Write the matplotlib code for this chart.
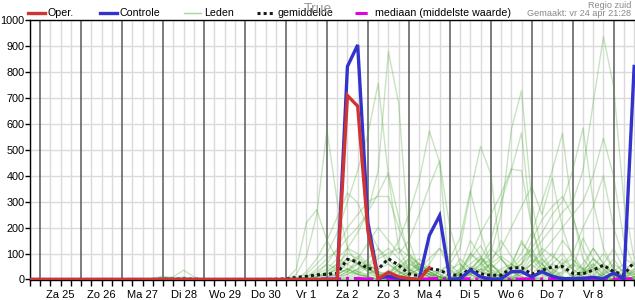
import matplotlib
matplotlib.use("Agg")
import matplotlib.pyplot as plt
from matplotlib.lines import Line2D
from matplotlib.ticker import FixedLocator, FixedFormatter

plt.rcParams['font.family'] = ['Liberation Sans', 'DejaVu Sans']

# time axis in hours, 0 = za 25 apr 00:00, 6-hourly steps
hours = list(range(-6, 349, 6))
day_labels = ["Za 25", "Zo 26", "Ma 27", "Di 28", "Wo 29", "Do 30", "Vr 1",
              "Za 2", "Zo 3", "Ma 4", "Di 5", "Wo 6", "Do 7", "Vr 8"]

# operationele run (stops at ma 4 12:00)
oper = [0, 0, 0, 0, 0, 0, 0, 0, 0, 0,
        0, 0, 0, 0, 0, 0, 0, 0, 0, 0,
        0, 0, 0, 0, 0, 0, 0, 0, 0, 0,
        0, 709, 668, 186, 2, 28, 10, 4, 0, 45]

controle = [0, 0, 0, 0, 0, 0, 0, 0, 0, 0,
            0, 0, 0, 0, 0, 0, 0, 0, 0, 0,
            0, 0, 0, 0, 0, 0, 0, 0, 0, 0,
            0, 821, 904, 220, 5, 12, 5, 2, 0, 170,
            246, 0, 3, 36, 10, 2, 2, 30, 30, 10,
            30, 12, 3, 3, 5, 8, 3, 25, 2, 821]

gemiddelde = [0, 0, 0, 0, 0, 0, 0, 0, 0, 0,
              0, 0, 0, 1, 1, 2, 1, 0, 0, 0,
              0, 0, 0, 0, 1, 2, 8, 12, 18, 20,
              24, 78, 68, 42, 40, 80, 55, 22, 14, 42,
              36, 18, 16, 40, 22, 16, 16, 44, 46, 20,
              36, 48, 50, 24, 22, 36, 55, 30, 18, 68]

mediaan = [0, 0, 0, 0, 0, 0, 0, 0, 0, 0,
           0, 0, 0, 0, 0, 0, 0, 0, 0, 0,
           0, 0, 0, 0, 0, 0, 0, 1, 1, 2,
           2, 4, 4, 2, 1, 4, 2, 1, 0, 3,
           4, 0, 1, 3, 1, 0, 1, 2, 2, 1,
           2, 2, 3, 1, 1, 2, 3, 1, 1, 3]

# ensemble members (leden), from vr 1 00:00 onwards
member_hours = list(range(144, 349, 6))
leden = [
    [0, 0, 10, 30, 60, 40, 120, 180, 260, 420, 878, 680, 150, 40, 20, 10, 0, 5, 20, 40, 10, 0, 0, 30, 60, 20, 5, 0, 10, 30, 50, 20, 0, 0, 10],
    [0, 5, 20, 60, 100, 180, 300, 420, 560, 756, 400, 120, 40, 10, 0, 30, 60, 20, 0, 10, 40, 80, 30, 10, 0, 5, 20, 60, 40, 10, 0, 20, 40, 10, 0],
    [0, 20, 90, 250, 577, 300, 120, 60, 30, 20, 10, 40, 80, 30, 10, 0, 0, 10, 30, 80, 40, 10, 0, 0, 20, 60, 100, 50, 10, 0, 0, 30, 80, 20, 0],
    [0, 40, 219, 269, 150, 80, 60, 30, 10, 0, 20, 60, 30, 10, 0, 0, 20, 80, 40, 10, 0, 0, 30, 60, 120, 40, 10, 0, 0, 20, 40, 10, 0, 0, 5],
    [0, 0, 30, 80, 150, 240, 333, 296, 200, 120, 80, 30, 10, 0, 0, 10, 40, 60, 20, 0, 0, 10, 50, 150, 80, 30, 10, 0, 20, 60, 120, 60, 20, 0, 10],
    [0, 0, 0, 20, 60, 120, 200, 250, 300, 320, 320, 200, 100, 50, 20, 0, 0, 20, 100, 60, 20, 0, 0, 40, 100, 60, 20, 10, 0, 30, 80, 40, 10, 0, 0],
    [0, 0, 10, 40, 80, 110, 160, 200, 260, 330, 411, 240, 90, 40, 10, 0, 10, 30, 80, 130, 60, 20, 10, 0, 10, 40, 80, 150, 100, 40, 10, 0, 0, 20, 40],
    [0, 0, 0, 10, 30, 60, 100, 80, 50, 40, 80, 150, 250, 380, 572, 452, 0, 10, 40, 80, 60, 20, 0, 0, 10, 30, 60, 40, 10, 0, 0, 20, 60, 30, 10],
    [0, 0, 0, 0, 20, 50, 80, 60, 40, 20, 30, 60, 40, 20, 10, 30, 60, 120, 333, 513, 406, 80, 30, 10, 0, 20, 60, 100, 40, 10, 0, 0, 30, 60, 20],
    [0, 0, 0, 10, 30, 60, 40, 20, 10, 0, 0, 20, 50, 80, 40, 20, 0, 10, 30, 60, 100, 250, 577, 728, 300, 100, 40, 10, 0, 20, 60, 30, 10, 0, 0],
    [0, 0, 10, 20, 40, 80, 120, 100, 60, 30, 20, 10, 30, 60, 40, 20, 0, 20, 40, 80, 150, 300, 420, 565, 200, 60, 20, 0, 10, 30, 80, 50, 20, 10, 0],
    [0, 0, 0, 0, 10, 30, 60, 90, 50, 20, 10, 40, 70, 30, 10, 0, 0, 40, 90, 180, 250, 330, 425, 419, 200, 80, 30, 10, 0, 20, 50, 100, 40, 10, 0],
    [0, 0, 0, 0, 0, 20, 40, 60, 40, 20, 10, 20, 40, 60, 30, 10, 0, 10, 30, 50, 80, 120, 200, 280, 359, 250, 392, 200, 80, 30, 10, 0, 20, 40, 10],
    [0, 0, 0, 10, 20, 40, 80, 60, 30, 10, 20, 60, 100, 60, 30, 10, 0, 0, 20, 40, 60, 30, 50, 100, 180, 300, 420, 564, 250, 80, 30, 10, 0, 10, 30],
    [0, 0, 0, 0, 10, 20, 40, 30, 20, 10, 0, 10, 30, 50, 30, 10, 0, 20, 50, 30, 10, 20, 40, 80, 120, 180, 250, 300, 420, 583, 300, 120, 40, 10, 0],
    [0, 0, 0, 0, 0, 10, 30, 60, 40, 20, 10, 30, 60, 40, 20, 10, 0, 10, 20, 40, 30, 10, 20, 60, 100, 150, 200, 260, 300, 420, 680, 936, 743, 300, 80],
    [0, 0, 0, 0, 10, 20, 40, 20, 10, 0, 20, 50, 80, 40, 20, 0, 0, 30, 60, 90, 40, 20, 0, 20, 60, 100, 150, 200, 250, 300, 400, 545, 397, 150, 50],
    [0, 0, 0, 0, 0, 10, 20, 40, 60, 30, 10, 0, 20, 40, 20, 10, 0, 0, 10, 30, 60, 90, 60, 30, 60, 120, 90, 60, 100, 200, 282, 400, 200, 80, 60],
    [0, 0, 0, 0, 0, 0, 20, 40, 80, 120, 60, 30, 10, 0, 20, 40, 10, 0, 20, 60, 120, 80, 40, 60, 150, 230, 280, 320, 244, 120, 40, 10, 0, 20, 30],
    [0, 0, 0, 0, 0, 10, 30, 80, 140, 200, 150, 100, 150, 250, 360, 457, 200, 60, 20, 0, 10, 40, 60, 30, 10, 0, 10, 30, 60, 40, 20, 0, 0, 10, 20],
    [0, 0, 0, 0, 0, 0, 10, 30, 60, 90, 120, 80, 40, 20, 60, 120, 80, 160, 342, 180, 60, 20, 10, 30, 80, 60, 20, 0, 10, 40, 60, 20, 0, 0, 10],
    [0, 0, 0, 0, 0, 0, 0, 10, 20, 40, 60, 30, 20, 10, 0, 0, 20, 40, 150, 90, 30, 10, 60, 140, 100, 40, 20, 60, 80, 40, 120, 60, 20, 0, 40],
    [0, 0, 0, 10, 20, 40, 30, 20, 10, 5, 0, 10, 20, 40, 80, 120, 40, 10, 0, 20, 60, 150, 90, 30, 0, 10, 30, 80, 40, 160, 80, 40, 10, 30, 20],
    [0, 0, 0, 0, 0, 0, 5, 20, 50, 80, 100, 120, 90, 60, 30, 10, 0, 30, 100, 70, 20, 10, 0, 20, 40, 80, 40, 20, 60, 20, 10, 60, 120, 40, 60],
]
# small early bumps around di 28
early_hours = [54, 60, 66, 72, 78, 84, 90, 96]
leden_early = [
    [0, 0, 5, 13, 5, 0, 0, 0],
    [0, 0, 0, 5, 10, 36, 10, 0],
    [0, 0, 3, 8, 4, 10, 3, 0],
]

W, H = 635, 300
fig = plt.figure(figsize=(W / 100, H / 100), dpi=100)
ax = fig.add_axes([30 / W, 20 / H, (W - 30) / W, 260 / H])

# grid: light every 6h / 100, dark at midnight
for h in hours:
    if h % 24 == 0:
        ax.axvline(h, color='#5a5a5a', lw=1.1, zorder=1)
    else:
        ax.axvline(h, color='#dadada', lw=1.0, zorder=0)
for v in range(100, 1001, 100):
    ax.axhline(v, color='#dadada', lw=1.0, zorder=0)

green = '#4aa62e'
for m in leden:
    ax.plot(member_hours, m, color=green, lw=1.0, alpha=0.3, zorder=2)
for m in leden_early:
    ax.plot(early_hours, m, color=green, lw=1.0, alpha=0.3, zorder=2)

ax.plot(hours, mediaan, color='#e000e0', lw=2.2, ls='-.', zorder=3)
ax.plot(hours, gemiddelde, color='#1a1a1a', lw=2.2, ls=(0, (1, 1)), zorder=4)
ax.plot(hours, controle, color='#3333cc', lw=2.4, zorder=5, solid_joinstyle='miter')
ax.plot(hours[:len(oper)], oper, color='#d03333', lw=2.4, zorder=6, solid_joinstyle='miter')

ax.set_xlim(-6, 348.5)
ax.set_ylim(-2, 1000)

ax.spines['right'].set_visible(False)
for s in ['left', 'bottom', 'top']:
    ax.spines[s].set_color('black')
    ax.spines[s].set_linewidth(1.0)

ax.yaxis.set_major_locator(FixedLocator(list(range(0, 1001, 100))))
ax.tick_params(axis='y', length=3.5, width=1, pad=0.6, labelsize=7.8, direction='out')
ax.xaxis.set_major_locator(FixedLocator(hours))
ax.xaxis.set_major_formatter(FixedFormatter(
    [day_labels[(h - 12) // 24] if (h - 12) % 24 == 0 and 0 <= (h - 12) // 24 < len(day_labels) else ''
     for h in hours]))
ax.tick_params(axis='x', length=4, width=1, pad=3, labelsize=8, direction='out')

# legend drawn by hand along the top
def px(x, y):
    return x / W, 1 - y / H

legend_items = [
    ("Oper.", 28, dict(color='#d03333', lw=2.4)),
    ("Controle", 100, dict(color='#3333cc', lw=2.4)),
    ("Leden", 184, dict(color='#a8d49a', lw=1.0)),
    ("gemiddelde", 257, dict(color='#1a1a1a', lw=2.2, ls=(0, (1, 1)))),
    ("mediaan (middelste waarde)", 355, dict(color='#e000e0', lw=2.2, ls=(0, (4, 2, 1, 2)))),
]
for label, x0, style in legend_items:
    (xa, ya), (xb, _) = px(x0, 13), px(x0 + 17, 13)
    fig.add_artist(Line2D([xa, xb], [ya, ya], transform=fig.transFigure, **style))
    tx, ty = px(x0 + 20, 13)
    fig.text(tx, ty, label, fontsize=7.7, va='center', ha='left')

tx, ty = px(318, 9)
fig.text(tx, ty, "True", fontsize=10, color='#999999', ha='center', va='center')
tx, ty = px(631, 5)
fig.text(tx, ty, "Regio zuid", fontsize=6.6, color='#888888', ha='right', va='center')
tx, ty = px(631, 14)
fig.text(tx, ty, "Gemaakt: vr 24 apr 21:28", fontsize=6.6, color='#888888', ha='right', va='center')

fig.savefig("out.png", dpi=100)
